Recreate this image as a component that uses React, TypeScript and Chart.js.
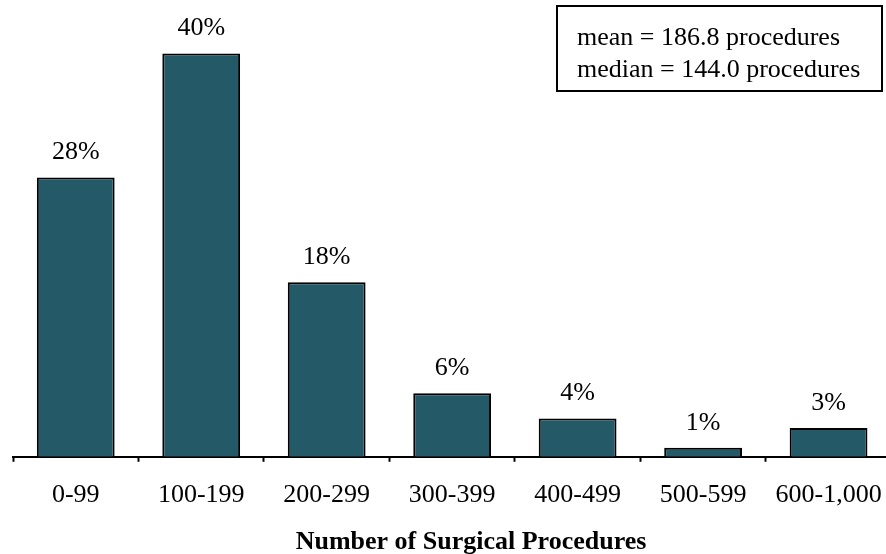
import React, { useEffect, useRef } from "react";
import { Chart, registerables } from "chart.js";

Chart.register(...registerables);

const categories = ["0-99", "100-199", "200-299", "300-399", "400-499", "500-599", "600-1,000"];
const shares = [27.7, 40.0, 17.3, 6.3, 3.8, 0.9, 2.85];
const shareLabels = ["28%", "40%", "18%", "6%", "4%", "1%", "3%"];
const statLines = ["mean = 186.8 procedures", "median = 144.0 procedures"];
const axisTitle = "Number of Surgical Procedures";

const FAMILY = '"Liberation Serif", "Times New Roman", Times, serif';

const valueLabelPlugin = {
  id: "valueLabels",
  afterDatasetsDraw(chart: any) {
    const ctx = chart.ctx;
    const meta = chart.getDatasetMeta(0);
    ctx.save();
    ctx.fillStyle = "#000";
    ctx.font = `26px ${FAMILY}`;
    ctx.textAlign = "center";
    ctx.textBaseline = "alphabetic";
    meta.data.forEach((el: any, i: number) => {
      ctx.fillText(shareLabels[i], el.x, el.y - 18);
    });
    ctx.restore();
  },
};

const axisTitlePlugin = {
  id: "axisTitle",
  afterDraw(chart: any) {
    const ctx = chart.ctx;
    ctx.save();
    ctx.fillStyle = "#000";
    ctx.font = `bold 26px ${FAMILY}`;
    ctx.textAlign = "center";
    ctx.textBaseline = "alphabetic";
    ctx.fillText(axisTitle, 471, 549);
    ctx.restore();
  },
};

const statsBoxPlugin = {
  id: "statsBox",
  afterDraw(chart: any) {
    const ctx = chart.ctx;
    ctx.save();
    ctx.fillStyle = "#fff";
    ctx.fillRect(557, 6, 325, 85);
    ctx.strokeStyle = "#000";
    ctx.lineWidth = 2;
    ctx.strokeRect(557, 6, 325, 85);
    ctx.fillStyle = "#000";
    ctx.font = `26px ${FAMILY}`;
    ctx.textAlign = "left";
    ctx.textBaseline = "alphabetic";
    statLines.forEach((line, i) => {
      ctx.fillText(line, 577, 45 + i * 31.5);
    });
    ctx.restore();
  },
};

export default function App() {
  const canvasRef = useRef<HTMLCanvasElement | null>(null);

  useEffect(() => {
    document.body.style.margin = "0";
    document.body.style.overflow = "hidden";
    const canvas = canvasRef.current;
    if (!canvas) return;
    const chart = new Chart(canvas, {
      type: "bar",
      data: {
        labels: categories,
        datasets: [
          {
            data: shares,
            backgroundColor: "#245A68",
            borderColor: "#000",
            borderWidth: 2,
            barPercentage: 0.62,
            categoryPercentage: 1,
          },
        ],
      },
      options: {
        responsive: false,
        animation: false,
        devicePixelRatio: 1,
        layout: { padding: { left: 13, right: 5, top: 3, bottom: 25 } },
        plugins: { legend: { display: false }, tooltip: { enabled: false } },
        scales: {
          y: { display: false, min: 0, max: 45 },
          x: {
            grid: {
              display: true,
              drawOnChartArea: false,
              drawTicks: true,
              tickLength: 5,
              tickColor: "#000",
              tickWidth: 2,
              offset: true,
            },
            border: { display: true, color: "#000", width: 2 },
            ticks: {
              color: "#000",
              font: { family: FAMILY, size: 26 },
              padding: 18,
              maxRotation: 0,
              autoSkip: false,
            },
            title: { display: false },
          },
        },
      },
      plugins: [valueLabelPlugin, statsBoxPlugin, axisTitlePlugin],
    } as any);
    return () => chart.destroy();
  }, []);

  return (
    <div style={{ width: 886, height: 554, overflow: "hidden", position: "relative", background: "#fff" }}>
      <canvas ref={canvasRef} width={900} height={554} style={{ display: "block" }} />
    </div>
  );
}
